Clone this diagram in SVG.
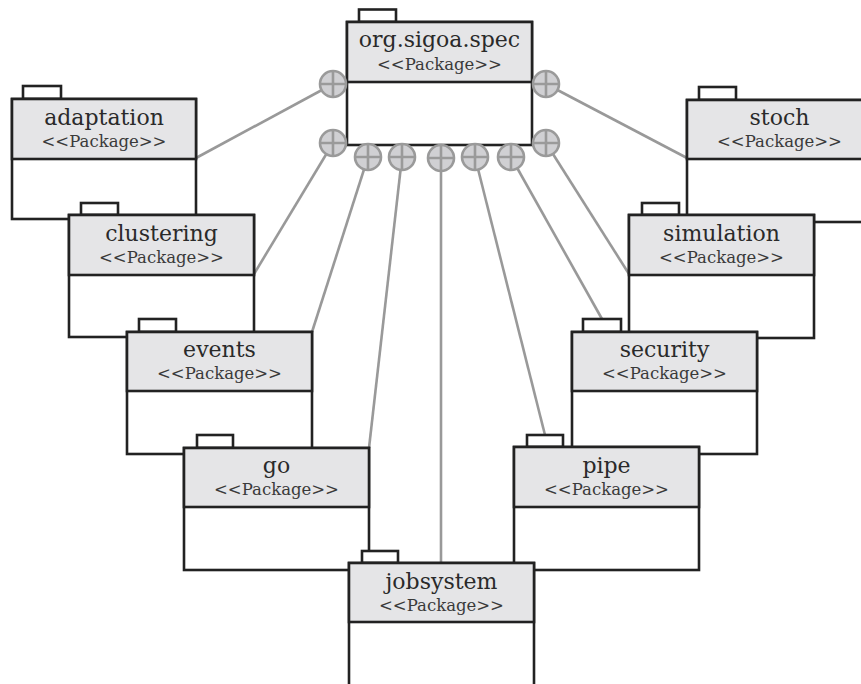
<svg xmlns="http://www.w3.org/2000/svg" width="861" height="684" viewBox="0 0 861 684">
  <defs>
    <style>
      .tab { fill: #ffffff; stroke: #222222; stroke-width: 2.6; }
      .body { fill: #ffffff; stroke: #222222; stroke-width: 2.6; }
      .head { fill: #e5e5e7; stroke: #222222; stroke-width: 2.6; }
      text { font-family: "DejaVu Serif", "Liberation Serif", serif; text-anchor: middle; }
      .name { font-size: 22px; fill: #2a2a2a; }
      .stereo { font-size: 16.5px; fill: #3a3a3a; }
      .link { stroke: #999999; stroke-width: 2.6; fill: none; }
      .port circle { fill: #d0d0d3; stroke: #9a9a9a; stroke-width: 2.6; }
      .port path { stroke: #9a9a9a; stroke-width: 2.6; fill: none; }
    </style>
    <!-- nesting port: circle with a cross -->
    <g id="plus" class="port">
      <circle cx="0" cy="0" r="13"/>
      <path d="M -13 0 H 13 M 0 -13 V 13"/>
    </g>
  </defs>

  <rect width="861" height="684" fill="#ffffff"/>

  <!-- connectors -->
  <g id="connectors">
    <line class="link" x1="333" y1="84" x2="196" y2="158"/>
    <line class="link" x1="333" y1="143" x2="254" y2="274"/>
    <line class="link" x1="368" y1="157" x2="312" y2="332"/>
    <line class="link" x1="402" y1="157" x2="369" y2="448"/>
    <line class="link" x1="441" y1="158" x2="441" y2="563"/>
    <line class="link" x1="475" y1="157" x2="545" y2="435"/>
    <line class="link" x1="511" y1="157" x2="602" y2="319"/>
    <line class="link" x1="546" y1="143" x2="629" y2="274"/>
    <line class="link" x1="546" y1="84" x2="687" y2="158"/>
  </g>

  <!-- left stack -->
  <g id="adaptation">
    <rect class="tab" x="23" y="86" width="38" height="13"/>
    <rect class="body" x="12" y="99" width="184" height="120"/>
    <rect class="head" x="12" y="99" width="184" height="60"/>
    <text class="name" x="104" y="125">adaptation</text>
    <text class="stereo" x="104" y="147">&lt;&lt;Package&gt;&gt;</text>
  </g>

  <g id="clustering">
    <rect class="tab" x="81" y="203" width="37" height="12"/>
    <rect class="body" x="69" y="215" width="185" height="122"/>
    <rect class="head" x="69" y="215" width="185" height="60"/>
    <text class="name" x="161.5" y="241">clustering</text>
    <text class="stereo" x="161.5" y="263">&lt;&lt;Package&gt;&gt;</text>
  </g>

  <g id="events">
    <rect class="tab" x="139" y="319" width="37" height="13"/>
    <rect class="body" x="127" y="332" width="185" height="122"/>
    <rect class="head" x="127" y="332" width="185" height="59"/>
    <text class="name" x="219.5" y="357">events</text>
    <text class="stereo" x="219.5" y="379">&lt;&lt;Package&gt;&gt;</text>
  </g>

  <g id="go">
    <rect class="tab" x="197" y="435" width="36" height="13"/>
    <rect class="body" x="184" y="448" width="185" height="122"/>
    <rect class="head" x="184" y="448" width="185" height="59"/>
    <text class="name" x="276.5" y="473">go</text>
    <text class="stereo" x="276.5" y="495">&lt;&lt;Package&gt;&gt;</text>
  </g>

  <!-- right stack -->
  <g id="stoch">
    <rect class="tab" x="699" y="87" width="37" height="13"/>
    <rect class="body" x="687" y="100" width="185" height="122"/>
    <rect class="head" x="687" y="100" width="185" height="59"/>
    <text class="name" x="779.5" y="125">stoch</text>
    <text class="stereo" x="779.5" y="147">&lt;&lt;Package&gt;&gt;</text>
  </g>

  <g id="simulation">
    <rect class="tab" x="642" y="203" width="37" height="12"/>
    <rect class="body" x="629" y="215" width="185" height="123"/>
    <rect class="head" x="629" y="215" width="185" height="60"/>
    <text class="name" x="721.5" y="241">simulation</text>
    <text class="stereo" x="721.5" y="263">&lt;&lt;Package&gt;&gt;</text>
  </g>

  <g id="security">
    <rect class="tab" x="583" y="319" width="38" height="13"/>
    <rect class="body" x="572" y="332" width="185" height="122"/>
    <rect class="head" x="572" y="332" width="185" height="59"/>
    <text class="name" x="664.5" y="357">security</text>
    <text class="stereo" x="664.5" y="379">&lt;&lt;Package&gt;&gt;</text>
  </g>

  <g id="pipe">
    <rect class="tab" x="527" y="435" width="36" height="12"/>
    <rect class="body" x="514" y="447" width="185" height="123"/>
    <rect class="head" x="514" y="447" width="185" height="60"/>
    <text class="name" x="606.5" y="473">pipe</text>
    <text class="stereo" x="606.5" y="495">&lt;&lt;Package&gt;&gt;</text>
  </g>

  <!-- bottom -->
  <g id="jobsystem">
    <rect class="tab" x="362" y="551" width="36" height="12"/>
    <rect class="body" x="349" y="563" width="185" height="140"/>
    <rect class="head" x="349" y="563" width="185" height="59"/>
    <text class="name" x="441.5" y="589">jobsystem</text>
    <text class="stereo" x="441.5" y="611">&lt;&lt;Package&gt;&gt;</text>
  </g>

  <!-- top -->
  <g id="org.sigoa.spec">
    <rect class="tab" x="359" y="9.5" width="37" height="12.5"/>
    <rect class="body" x="347" y="22" width="185" height="123"/>
    <rect class="head" x="347" y="22" width="185" height="60"/>
    <text class="name" x="439.5" y="47">org.sigoa.spec</text>
    <text class="stereo" x="439.5" y="70">&lt;&lt;Package&gt;&gt;</text>
  </g>

  <!-- nesting ports on org.sigoa.spec -->
  <g id="ports">
    <use href="#plus" x="333" y="84"/>
    <use href="#plus" x="333" y="143"/>
    <use href="#plus" x="368" y="157"/>
    <use href="#plus" x="402" y="157"/>
    <use href="#plus" x="441" y="158"/>
    <use href="#plus" x="475" y="157"/>
    <use href="#plus" x="511" y="157"/>
    <use href="#plus" x="546" y="143"/>
    <use href="#plus" x="546" y="84"/>
  </g>
</svg>
